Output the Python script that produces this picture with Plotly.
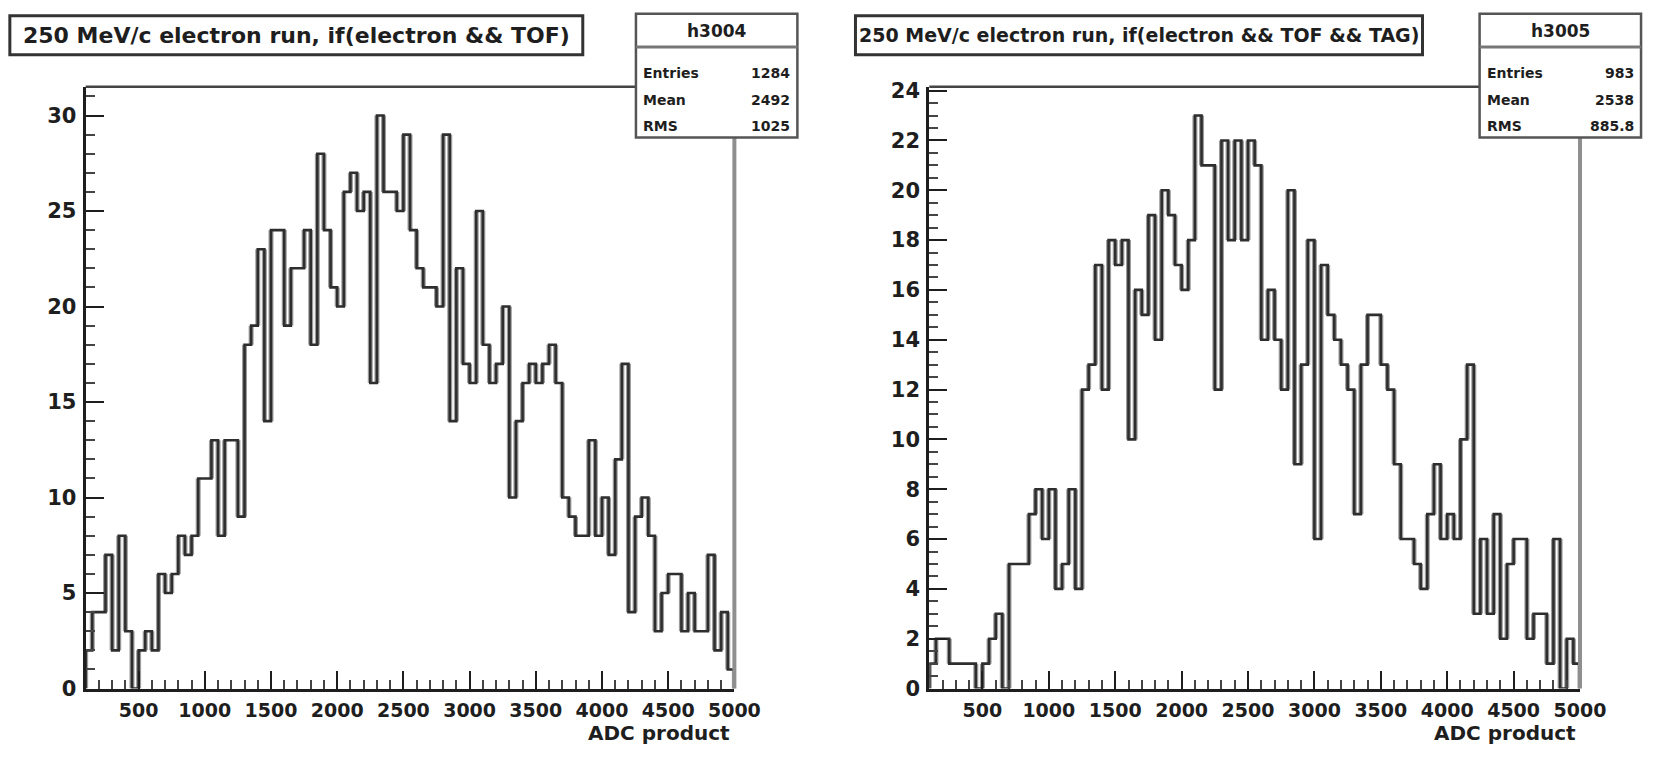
import numpy as np
import plotly.graph_objects as go

W, H = 1670, 758

# shared binning: 98 bins of 50 ADC counts
X_MIN, X_MAX, N_BINS = 100.0, 5000.0, 98

counts_tof = [
    2, 4, 4, 7, 2, 8, 3, 0, 2, 3,
    2, 6, 5, 6, 8, 7, 8, 11, 11, 13,
    8, 13, 13, 9, 18, 19, 23, 14, 24, 24,
    19, 22, 22, 24, 18, 28, 24, 21, 20, 26,
    27, 25, 26, 16, 30, 26, 26, 25, 29, 24,
    22, 21, 21, 20, 29, 14, 22, 17, 16, 25,
    18, 16, 17, 20, 10, 14, 16, 17, 16, 17,
    18, 16, 10, 9, 8, 8, 13, 8, 10, 7,
    12, 17, 4, 9, 10, 8, 3, 5, 6, 6,
    3, 5, 3, 3, 7, 2, 4, 1,
]

counts_tof_tag = [
    1, 2, 2, 1, 1, 1, 1, 0, 1, 2,
    3, 0, 5, 5, 5, 7, 8, 6, 8, 4,
    5, 8, 4, 12, 13, 17, 12, 18, 17, 18,
    10, 16, 15, 19, 14, 20, 19, 17, 16, 18,
    23, 21, 21, 12, 22, 18, 22, 18, 22, 21,
    14, 16, 14, 12, 20, 9, 13, 18, 6, 17,
    15, 14, 13, 12, 7, 13, 15, 15, 13, 12,
    9, 6, 6, 5, 4, 7, 9, 6, 7, 6,
    10, 13, 3, 6, 3, 7, 2, 5, 6, 6,
    2, 3, 3, 1, 6, 0, 2, 1,
]

titles = [
    "250 MeV/c electron run, if(electron && TOF)",
    "250 MeV/c electron run, if(electron && TOF && TAG)",
]
hist_names = ["h3004", "h3005"]
stat_labels = ["Entries", "Mean", "RMS"]
stat_values = [["1284", "2492", "1025"], ["983", "2538", "885.8"]]
x_title = "ADC product"

FONT = "DejaVu Sans"
INK = "#1e1e1e"


def px(x):
    return x / W


def py(y):
    return 1 - y / H


def step_xy(counts):
    edges = np.linspace(X_MIN, X_MAX, N_BINS + 1)
    c = np.asarray(counts, dtype=float)
    xs = np.concatenate([[edges[0]], edges[:-1], [edges[-1], edges[-1]]])
    ys = np.concatenate([[0.0], c, [c[-1], 0.0]])
    return xs, ys


def edge_risers(counts):
    """Vertical segments at every bin edge (between neighbouring contents)."""
    edges = np.linspace(X_MIN, X_MAX, N_BINS + 1)
    c = np.concatenate([[0.0], np.asarray(counts, dtype=float), [0.0]])
    xs, ys = [], []
    for k, e in enumerate(edges):
        lo, hi = c[k], c[k + 1]
        if lo != hi:
            xs += [e, e, None]
            ys += [lo, hi, None]
    return xs, ys


# pad geometry in pixels: frame left/right, title box, stats box
pads = [
    dict(fx0=87, fx1=746, tb=(10, 592), tsize=22, sb=(646, 810), ymax=31.5,
         ydt=5, ymin_dt=1),
    dict(fx0=944, fx1=1605, tb=(869, 1445), tsize=19, sb=(1503, 1667), ymax=24.15,
         ydt=2, ymin_dt=0.5),
]
FY0, FY1 = 81, 699

fig = go.Figure()
shapes = []
annotations = []

for i, (pad, counts) in enumerate(zip(pads, [counts_tof, counts_tof_tag])):
    xa = "xaxis" if i == 0 else "xaxis2"
    ya = "yaxis" if i == 0 else "yaxis2"
    xref = "x" if i == 0 else "x2"
    yref = "y" if i == 0 else "y2"

    # soft grey band behind each riser of the outline
    rx, ry = edge_risers(counts)
    fig.add_trace(go.Scatter(
        x=rx, y=ry, mode="lines", line=dict(color="#9c9c9c", width=5),
        xaxis=xref, yaxis=yref, showlegend=False, hoverinfo="skip",
    ))

    xs, ys = step_xy(counts)
    fig.add_trace(go.Scatter(
        x=xs, y=ys, mode="lines",
        line=dict(shape="hv", color="#2e2e2e", width=2.6),
        xaxis=xref, yaxis=yref, showlegend=False, hoverinfo="skip",
    ))

    fig.layout[xa] = dict(
        domain=[px(pad["fx0"]), px(pad["fx1"])],
        anchor=yref,
        range=[X_MIN, X_MAX], tickmode="linear", tick0=0, dtick=500,
        ticks="inside", ticklen=18, tickwidth=2, tickcolor=INK,
        minor=dict(ticks="inside", dtick=100, tick0=0, ticklen=9,
                   tickwidth=2, tickcolor="#444"),
        showline=True, linewidth=3, linecolor=INK,
        showgrid=False, zeroline=False, ticklabelstandoff=3,
        tickfont=dict(family=FONT, size=19, color=INK, weight="bold"),
    )
    fig.layout[ya] = dict(
        domain=[py(FY1), py(FY0)],
        anchor=xref,
        range=[0, pad["ymax"]], tickmode="linear", tick0=0, dtick=pad["ydt"],
        ticks="inside", ticklen=18, tickwidth=2, tickcolor=INK,
        minor=dict(ticks="inside", dtick=pad["ymin_dt"], tick0=0, ticklen=9,
                   tickwidth=2, tickcolor="#444"),
        showline=True, linewidth=3, linecolor=INK,
        showgrid=False, zeroline=False, ticklabelstandoff=2,
        tickfont=dict(family=FONT, size=21, color=INK, weight="bold"),
    )

    # frame top and right edges
    shapes.append(dict(type="line", xref="paper", yref="paper",
                       x0=px(pad["fx0"]), x1=px(pad["fx1"]), y0=py(FY0), y1=py(FY0),
                       line=dict(color="#444", width=2.5)))
    shapes.append(dict(type="line", xref="paper", yref="paper",
                       x0=px(pad["fx1"]), x1=px(pad["fx1"]), y0=py(FY0), y1=py(FY1),
                       line=dict(color="#8f8f8f", width=4)))

    # title box
    tx0, tx1 = pad["tb"]
    shapes.append(dict(type="rect", xref="paper", yref="paper",
                       x0=px(tx0), x1=px(tx1), y0=py(48), y1=py(8),
                       fillcolor="white", line=dict(color="#333", width=3)))
    annotations.append(dict(xref="paper", yref="paper", x=px((tx0 + tx1) / 2), y=py(28),
                            text=titles[i], showarrow=False, xanchor="center", yanchor="middle",
                            font=dict(family=FONT, size=pad["tsize"], color=INK, weight="bold")))

    # stats box
    sx0, sx1 = pad["sb"]
    shapes.append(dict(type="rect", xref="paper", yref="paper",
                       x0=px(sx0), x1=px(sx1), y0=py(133), y1=py(6),
                       fillcolor="white", line=dict(color="#555", width=2.5)))
    shapes.append(dict(type="line", xref="paper", yref="paper",
                       x0=px(sx0), x1=px(sx1), y0=py(40), y1=py(40),
                       line=dict(color="#777", width=3)))
    annotations.append(dict(xref="paper", yref="paper", x=px((sx0 + sx1) / 2), y=py(24),
                            text=hist_names[i], showarrow=False, xanchor="center", yanchor="middle",
                            font=dict(family=FONT, size=17, color=INK, weight="bold")))
    for k, (lab, val) in enumerate(zip(stat_labels, stat_values[i])):
        yy = py(67 + 27 * k)
        annotations.append(dict(xref="paper", yref="paper", x=px(sx0 + 5), y=yy, text=lab,
                                showarrow=False, xanchor="left", yanchor="middle",
                                font=dict(family=FONT, size=14, color=INK, weight="bold")))
        annotations.append(dict(xref="paper", yref="paper", x=px(sx1 - 5), y=yy, text=val,
                                showarrow=False, xanchor="right", yanchor="middle",
                                font=dict(family=FONT, size=14, color=INK, weight="bold")))

    # x axis title
    annotations.append(dict(xref="paper", yref="paper", x=px(pad["fx1"] - 2), y=py(745),
                            text=x_title, showarrow=False, xanchor="right", yanchor="middle",
                            font=dict(family=FONT, size=20, color=INK, weight="bold")))

for s in shapes:
    s["layer"] = "above"

fig.update_layout(
    width=W, height=H,
    margin=dict(l=0, r=0, t=0, b=0),
    paper_bgcolor="white", plot_bgcolor="white",
    shapes=shapes, annotations=annotations,
    showlegend=False,
)

fig.write_html("out.html")
